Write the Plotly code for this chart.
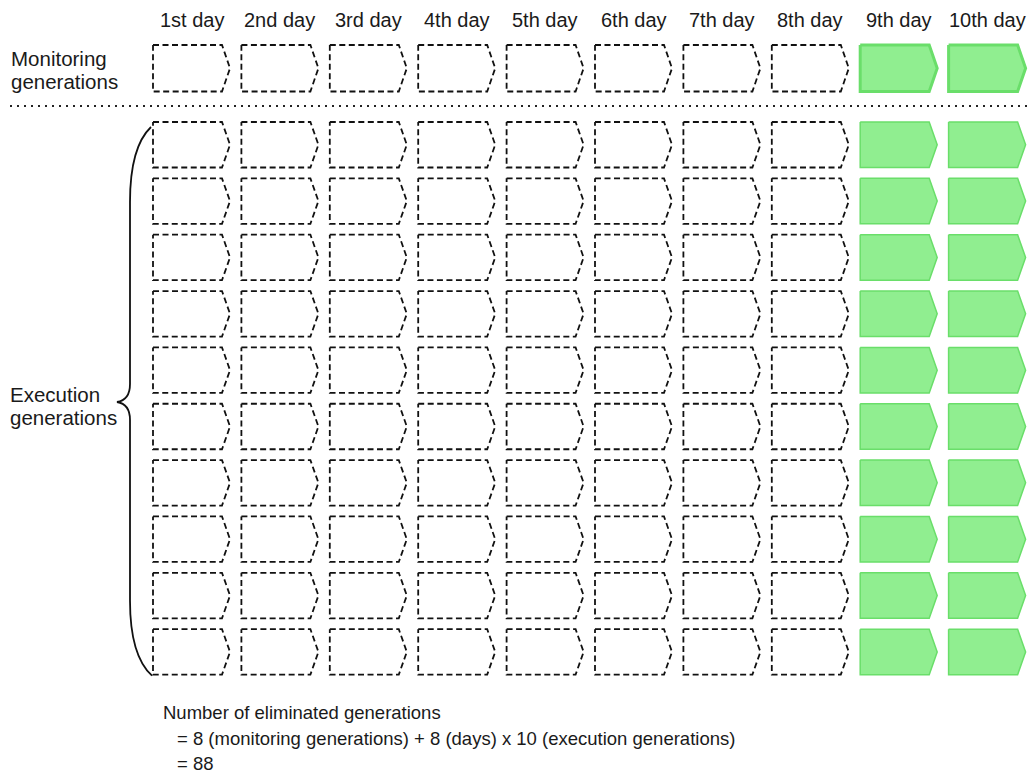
import plotly.graph_objects as go

# ---- data ----
days = ["1st day", "2nd day", "3rd day", "4th day", "5th day",
        "6th day", "7th day", "8th day", "9th day", "10th day"]
eliminated = [True, True, True, True, True, True, True, True, False, False]
n_execution = 10
monitoring_label = ["Monitoring", "generations"]
execution_label = ["Execution", "generations"]
summary_lines = ["Number of eliminated generations",
                 "= 8 (monitoring generations) + 8 (days) x 10 (execution generations)",
                 "= 88"]

# ---- layout geometry (pixel space of the 1031x774 page) ----
W, H = 1031, 774
col_left0, col_pitch = 153.0, 88.4
box_w, notch = 77.0, 8.0
mon_top, mon_h = 45.0, 46.5
exe_top0, exe_pitch, exe_h = 122.0, 56.35, 45.5

FONT = "Liberation Sans, Arial, sans-serif"
TXT = "#1a1a1a"
GREEN_FILL = "#90EE90"
GREEN_LINE = "#6ade6a"

def pentagon(left, top, h):
    xs = [left, left + box_w - notch, left + box_w, left + box_w - notch, left, left, None]
    ys = [top, top, top + h / 2, top + h, top + h, top, None]
    return xs, ys

fig = go.Figure()

def add_row(top, h, green_width):
    dx, dy, gx, gy = [], [], [], []
    for i, elim in enumerate(eliminated):
        left = col_left0 + col_pitch * i
        xs, ys = pentagon(left, top, h)
        if elim:
            dx += xs; dy += ys
        else:
            gx += xs; gy += ys
    fig.add_trace(go.Scatter(x=dx, y=dy, mode="lines", hoverinfo="skip",
                             line=dict(color="#111111", width=1.8, dash="6px,3.5px")))
    fig.add_trace(go.Scatter(x=gx, y=gy, mode="lines", fill="toself", hoverinfo="skip",
                             fillcolor=GREEN_FILL,
                             line=dict(color=GREEN_LINE, width=green_width)))

add_row(mon_top, mon_h, 3)
for r in range(n_execution):
    add_row(exe_top0 + exe_pitch * r, exe_h, 1.5)

# dotted separator
fig.add_trace(go.Scatter(x=[10, W], y=[106, 106], mode="lines", hoverinfo="skip",
                         line=dict(color="#222222", width=2, dash="2px,5px")))

# brace
brace_top = exe_top0 + 5
brace_bot = exe_top0 + exe_pitch * (n_execution - 1) + exe_h + 1
mid = 402
fig.add_shape(type="path",
              path=(f"M 151,{brace_top} Q 130,{brace_top+20} 130,{brace_top+75} "
                    f"L 130,{mid-18} Q 130,{mid-2} 117,{mid} "
                    f"Q 130,{mid+2} 130,{mid+18} L 130,{brace_bot-75} "
                    f"Q 130,{brace_bot-20} 152,{brace_bot}"),
              line=dict(color="#111111", width=1.8), xref="x", yref="y")

# day labels
for i, d in enumerate(days):
    fig.add_annotation(x=col_left0 + col_pitch * i + box_w / 2, y=20, text=d,
                       showarrow=False, xanchor="center", yanchor="middle",
                       font=dict(family=FONT, size=20, color=TXT))

# row labels
for txt, yy in zip(monitoring_label, [58, 81]):
    fig.add_annotation(x=9, y=yy, text=txt, showarrow=False, xanchor="left",
                       yanchor="middle", font=dict(family=FONT, size=20.5, color=TXT))
for txt, yy in zip(execution_label, [394, 417]):
    fig.add_annotation(x=8, y=yy, text=txt, showarrow=False, xanchor="left",
                       yanchor="middle", font=dict(family=FONT, size=20.5, color=TXT))

# summary text
for txt, xx, yy in zip(summary_lines, [161, 175, 175], [712, 738, 763]):
    fig.add_annotation(x=xx, y=yy, text=txt, showarrow=False, xanchor="left",
                       yanchor="middle", font=dict(family=FONT, size=18.5, color=TXT))

fig.update_layout(width=W, height=H,
                  margin=dict(l=0, r=0, t=0, b=0),
                  paper_bgcolor="white", plot_bgcolor="white", showlegend=False,
                  hovermode=False,
                  xaxis=dict(range=[0, W], visible=False, fixedrange=True),
                  yaxis=dict(range=[H, 0], visible=False, fixedrange=True))

fig.write_html(
    "out.html",
    config={"displayModeBar": False, "staticPlot": True},
    post_script="document.body.style.margin='0';document.body.style.overflow='hidden';",
)
